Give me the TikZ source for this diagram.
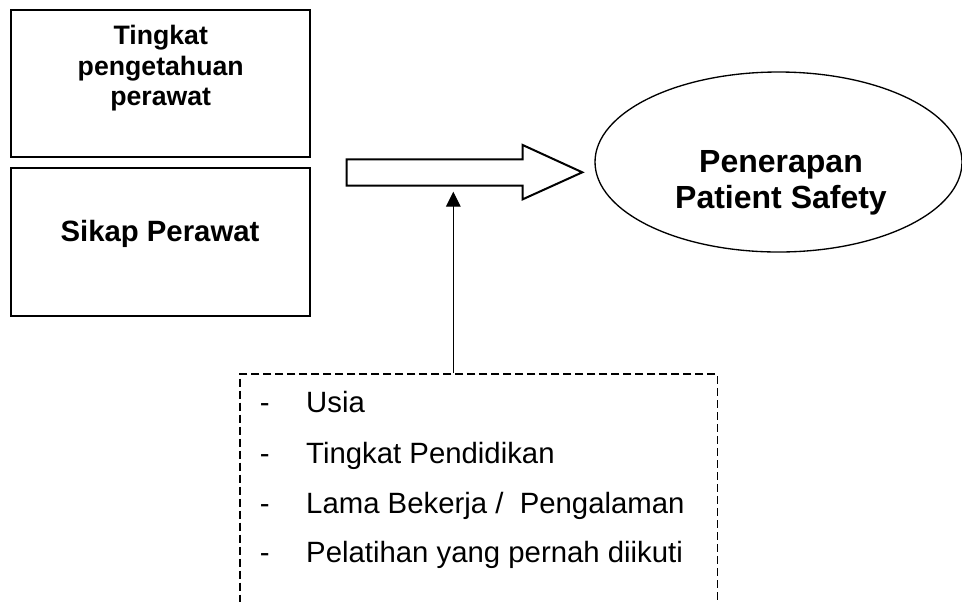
\documentclass[tikz,border=0pt]{standalone}
\usepackage{fontspec}
\setmainfont{Liberation Sans}
\usepackage{tikz}
\usetikzlibrary{arrows.meta,positioning,shapes.geometric}

\begin{document}
\begin{tikzpicture}[x=0.75pt,y=-0.75pt,
  kotak/.style={draw,line width=1.5pt,minimum width=224.25pt,inner sep=0pt},
  judul/.style={align=center,inner sep=0pt},
  butir/.style={font=\fontsize{22}{26}\selectfont,inner sep=0pt,anchor=base west}]
\clip (0,0) rectangle (962,601);
\node[kotak,minimum height=110.25pt] (pengetahuan) at (160.5,83.5) {};
\node[judul,font=\bfseries\fontsize{20}{22.9}\selectfont] (pengetahuanlbl) at (160.7,68.5) {Tingkat\\pengetahuan\\perawat};
\node[kotak,minimum height=111pt] (sikap) at (160.5,242) {};
\node[judul,font=\bfseries\fontsize{22}{26}\selectfont] (sikaplbl) at (160,234) {Sikap Perawat};
\node[draw,ellipse,line width=1pt,minimum width=275.25pt,minimum height=135pt,inner sep=0pt] (penerapan) at (778.5,162) {};
\node[judul,font=\bfseries\fontsize{24}{27.2}\selectfont] (penerapanlbl) at (781,182.5) {Penerapan\\Patient Safety};
\draw[line width=1.5pt,line join=miter] (346.7,159.3) -- (522.7,159.3) -- (522.7,145) -- (582.3,172.3) -- (522.7,199.3) -- (522.7,185.7) -- (346.7,185.7) -- cycle;
\node[draw,line width=1.3pt,dash pattern=on 6pt off 3pt,minimum width=358.3pt,minimum height=225pt,inner sep=0pt,anchor=north west] (faktor) at (239,373.3) {};
\coordinate (ujung) at (453.3,191.7);
\draw[line width=0.75pt,-{Triangle[length=11.25pt,width=11pt]}] (faktor.north -| ujung) -- (ujung);
\node[butir] (usia) at (259.7,412.7) {\makebox[34.7pt][l]{-}Usia};
\node[butir] (pendidikan) at (259.7,463) {\makebox[34.7pt][l]{-}Tingkat Pendidikan};
\node[butir] (lama) at (259.7,513) {\makebox[34.7pt][l]{-}Lama Bekerja / \ Pengalaman};
\node[butir] (pelatihan) at (259.7,562.7) {\makebox[34.7pt][l]{-}Pelatihan yang pernah diikuti};
\end{tikzpicture}
\end{document}
